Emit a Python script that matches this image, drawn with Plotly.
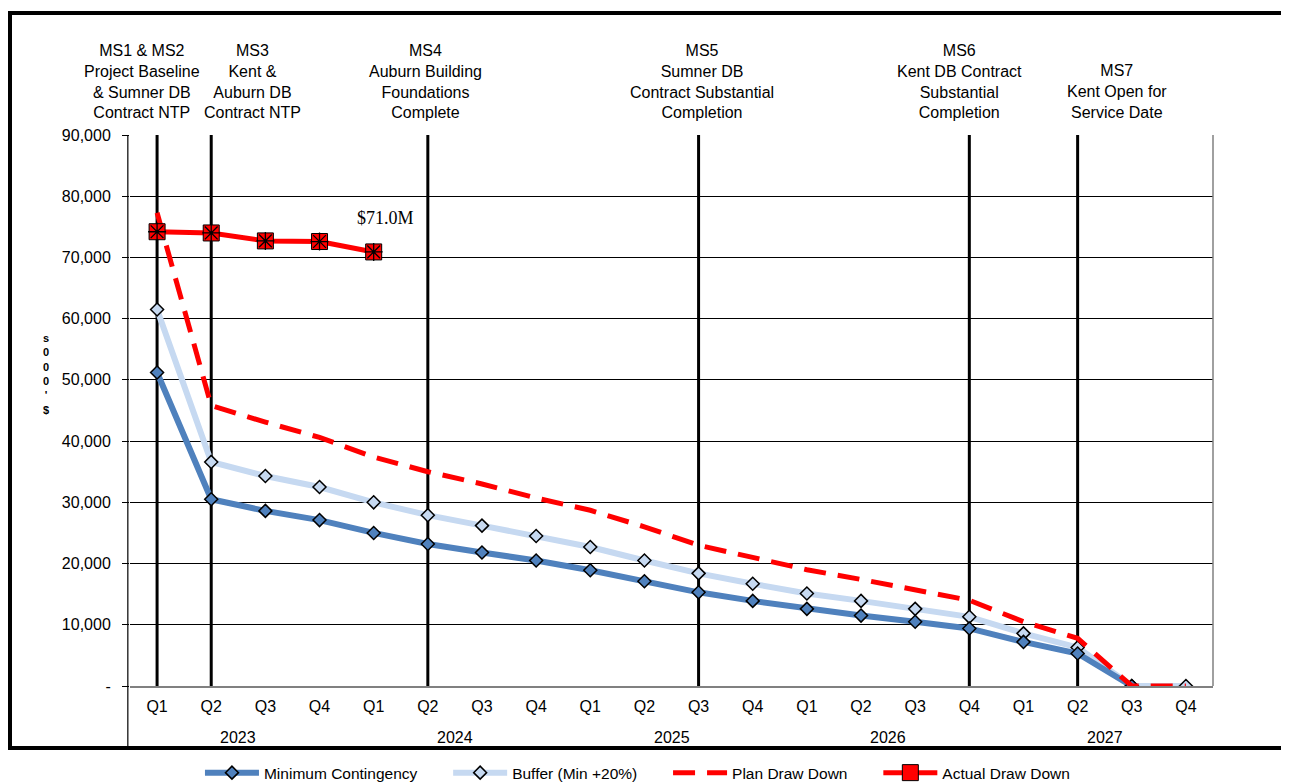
import plotly.graph_objects as go

quarters = ["Q1", "Q2", "Q3", "Q4"] * 5
years = ["2023", "2024", "2025", "2026", "2027"]

min_contingency = [51200, 30500, 28600, 27100, 25000, 23200, 21800, 20500, 18900, 17100,
                   15300, 13900, 12600, 11500, 10500, 9400, 7200, 5300, 0, None]
buffer_vals = [61500, 36600, 34300, 32500, 30000, 27900, 26200, 24500, 22700, 20500,
               18400, 16700, 15100, 13900, 12600, 11300, 8600, 6300, 0, 0]
plan_draw = [77300, 45800, 43100, 40600, 37400, 35000, 33000, 30700, 28700, 26000,
             23000, 21000, 19000, 17400, 15800, 14000, 10500, 7800, 0, 0]
actual_draw = [74200, 74000, 72700, 72600, 70900]

milestone_idx = [0, 1, 5, 10, 15, 17]
milestone_label_x = [-0.28, 1.77, 4.96, 10.07, 14.82, 17.73]
milestone_text = [
    "MS1 & MS2<br>Project Baseline<br>& Sumner DB<br>Contract NTP",
    "MS3<br>Kent &<br>Auburn DB<br>Contract NTP",
    "MS4<br>Auburn Building<br>Foundations<br>Complete",
    "MS5<br>Sumner DB<br>Contract Substantial<br>Completion",
    "MS6<br>Kent DB Contract<br>Substantial<br>Completion",
    "MS7<br>Kent Open for<br>Service Date",
]
y_ticks = [0, 10000, 20000, 30000, 40000, 50000, 60000, 70000, 80000, 90000]
y_tick_text = ["-", "10,000", "20,000", "30,000", "40,000", "50,000", "60,000", "70,000", "80,000", "90,000"]
y_title_chars = ["s", "0", "0", "0", "'", "$"]  # "$000's" stacked, read bottom to top

legend_names = ["Minimum Contingency", "Buffer (Min +20%)", "Plan Draw Down", "Actual Draw Down"]

xs = list(range(20))
FONT = "Liberation Sans, Arial, sans-serif"
NB = "\u00a0"

fig = go.Figure()
fig.add_trace(go.Scatter(
    x=xs, y=buffer_vals, name=legend_names[1] + NB * 6, mode="lines+markers", legendrank=2,
    line=dict(color="#C6D9F1", width=6),
    marker=dict(symbol="diamond", size=10, color="#C6D9F1", line=dict(color="black", width=1.5)),
))
fig.add_trace(go.Scatter(
    x=xs, y=min_contingency, name=legend_names[0] + NB * 6, mode="lines+markers", legendrank=1,
    line=dict(color="#4F81BD", width=6),
    marker=dict(symbol="diamond", size=10, color="#4F81BD", line=dict(color="black", width=1.5)),
))
fig.add_trace(go.Scatter(
    x=xs, y=plan_draw, name=legend_names[2] + NB * 6, mode="lines", legendrank=3,
    line=dict(color="#FF0000", width=5, dash="22px,12px"),
))
fig.add_trace(go.Scatter(
    x=xs[:len(actual_draw)], y=actual_draw, name=legend_names[3], mode="lines+markers", legendrank=4,
    line=dict(color="#FF0000", width=5),
    marker=dict(symbol="square", size=16, color="#FF0000", line=dict(color="black", width=1)),
))
fig.add_trace(go.Scatter(
    x=xs[:len(actual_draw)], y=actual_draw, showlegend=False, mode="markers", hoverinfo="skip",
    marker=dict(symbol="asterisk-open", size=15, color="black", line=dict(color="black", width=1.3)),
))

shapes = []
for i in milestone_idx:
    shapes.append(dict(type="line", xref="x", yref="paper", x0=i, x1=i, y0=0, y1=1,
                       line=dict(color="black", width=3), layer="below"))
shapes.append(dict(type="line", xref="paper", yref="paper", x0=1, x1=1, y0=0, y1=1,
                   line=dict(color="#808080", width=1.5)))
shapes.append(dict(type="line", xref="paper", yref="paper", x0=-0.002, x1=-0.002, y0=-0.1125, y1=1,
                   line=dict(color="black", width=1.2)))
shapes.append(dict(type="rect", xref="paper", yref="paper", x0=-0.1108, x1=1.0683, y0=-0.1125, y1=1.2214,
                   line=dict(color="black", width=4)))

annotations = []
for lx, txt in zip(milestone_label_x, milestone_text):
    annotations.append(dict(x=lx, y=1.021, xref="x", yref="paper", text=txt, showarrow=False,
                            xanchor="center", yanchor="bottom", align="center",
                            font=dict(family=FONT, size=16, color="black")))
for k, yr in enumerate(years):
    annotations.append(dict(x=1.5 + 4 * k, y=-0.093, xref="x", yref="paper", text=yr, showarrow=False,
                            xanchor="center", yanchor="middle",
                            font=dict(family=FONT, size=16, color="black")))
annotations.append(dict(x=4.22, y=76450, xref="x", yref="y", text="$71.0M", showarrow=False,
                        xanchor="center", yanchor="middle",
                        font=dict(family="Liberation Serif, Times New Roman, serif", size=18, color="black")))

annotations.append(dict(x=-0.0776, y=(686 - 374) / 551, xref="paper", yref="paper",
                        text="<b>" + "<br>".join(y_title_chars) + "</b>",
                        showarrow=False, xanchor="center", yanchor="middle", align="center",
                        font=dict(family=FONT, size=11, color="black")))

fig.update_layout(
    width=1281, height=782,
    margin=dict(l=122, r=76, t=127, b=104, autoexpand=False),
    paper_bgcolor="white", plot_bgcolor="white",
    font=dict(family=FONT, size=16, color="black"),
    shapes=shapes, annotations=annotations,
    showlegend=True,
    legend=dict(orientation="h", x=0.0646, y=-0.158, xanchor="left", yanchor="middle",
                font=dict(family=FONT, size=15.5, color="black"), itemwidth=54,
                tracegroupgap=0, bgcolor="rgba(0,0,0,0)", traceorder="normal"),
    xaxis=dict(range=[-0.5, 19.5], tickmode="array", tickvals=xs, ticktext=quarters,
               showgrid=False, zeroline=False, showline=True, linecolor="#808080", linewidth=1.5,
               ticks="", ticklabelstandoff=5, tickfont=dict(family=FONT, size=16, color="black"),
               fixedrange=True),
    yaxis=dict(range=[0, 90000], tickmode="array", tickvals=y_ticks, ticktext=y_tick_text,
               showgrid=True, gridcolor="black", gridwidth=1, zeroline=False,
               showline=False, ticks="outside", ticklen=7, tickcolor="black", ticklabelstandoff=8,
               tickfont=dict(family=FONT, size=16, color="black"),
               fixedrange=True),
)

fig.write_html("out.html")
